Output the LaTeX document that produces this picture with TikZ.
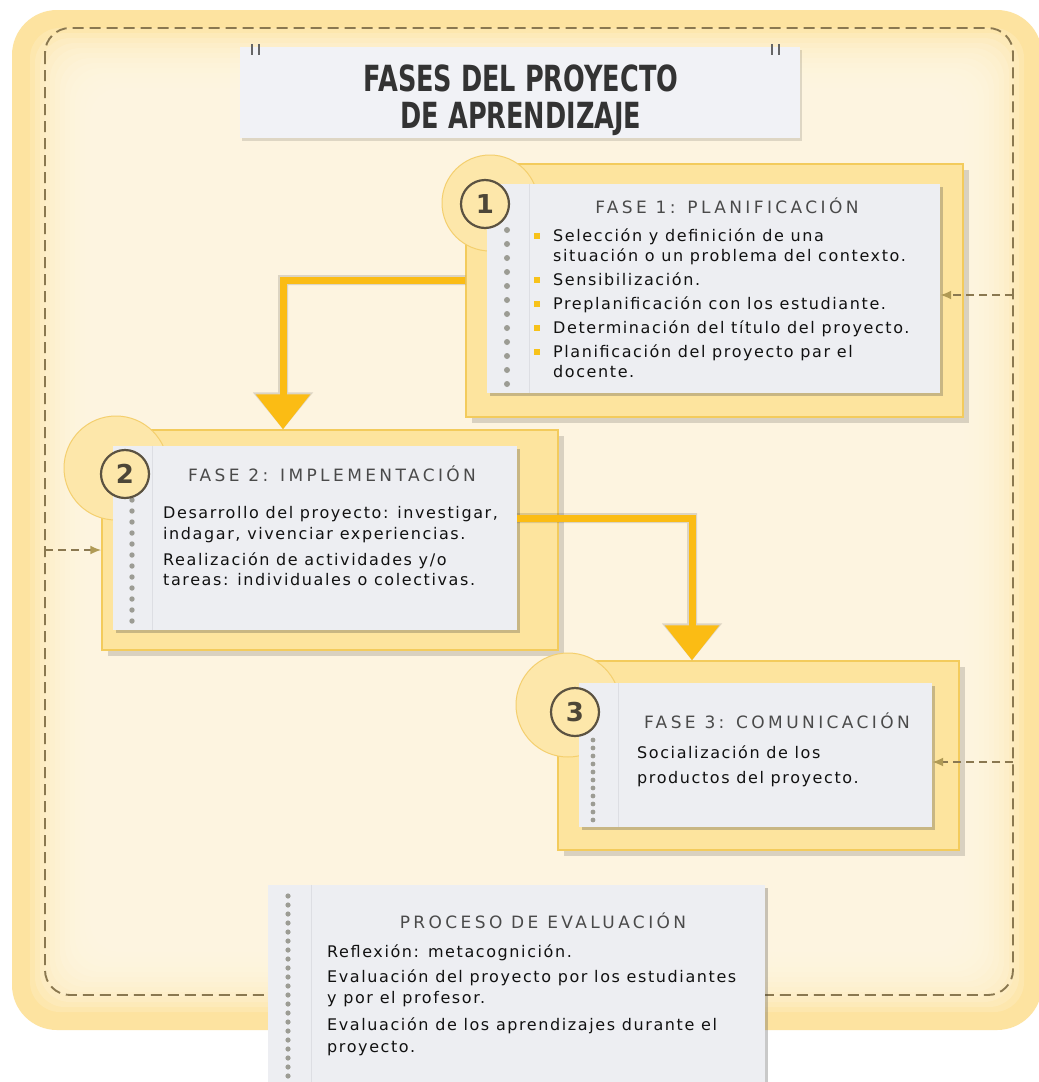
\documentclass[tikz,border=0pt]{standalone}
\usepackage{fontspec}
\usepackage{graphicx}
\setmainfont{DejaVu Sans}
\newfontfamily\bodyfont[LetterSpace=10]{DejaVu Sans}
\newfontfamily\headfont[LetterSpace=20]{DejaVu Sans}
\usetikzlibrary{arrows.meta,shadows,calc}
\definecolor{outery}{HTML}{FDE3A0}
\definecolor{cream}{HTML}{FFF8E6}
\definecolor{framey}{HTML}{FDE49E}
\definecolor{framed}{HTML}{F3CB5C}
\definecolor{cardc}{HTML}{EDEEF2}
\definecolor{gold}{HTML}{FBBC14}
\definecolor{dashc}{HTML}{8A7850}
\definecolor{dashtip}{HTML}{B09A55}
\definecolor{dotc}{HTML}{9C9C94}
\definecolor{headc}{HTML}{4A4A4A}
\definecolor{txtc}{HTML}{111111}
\definecolor{circd}{HTML}{5B5241}
\definecolor{bigcirc}{HTML}{FDE7AA}
\definecolor{bigcircd}{HTML}{F4CF6E}
\definecolor{bulletc}{HTML}{F7C21A}
\definecolor{titlebox}{HTML}{F1F2F6}
\definecolor{marginc}{HTML}{DDDEE3}
\tikzset{
  framebox/.style={rectangle, inner sep=0pt, draw=framed, line width=1.4pt, fill=framey,
    drop shadow={shadow xshift=6pt, shadow yshift=-6pt, opacity=0.14, fill=black}},
  cardbox/.style={rectangle, inner sep=0pt, fill=cardc,
    drop shadow={shadow xshift=3pt, shadow yshift=-3pt, opacity=0.28, fill=black!75}},
  titlebx/.style={rectangle, inner sep=0pt, fill=titlebox,
    drop shadow={shadow xshift=2pt, shadow yshift=-3pt, opacity=0.12, fill=black}},
  bigc/.style={circle, inner sep=0pt, minimum size=96pt, fill=bigcirc, draw=bigcircd, line width=1pt},
  numc/.style={circle, inner sep=0pt, minimum size=48pt, fill=bigcirc, draw=circd, line width=2.2pt,
    text=circd!85!black, font=\bfseries\fontsize{26}{26}\selectfont},
  body/.style={anchor=base west, inner sep=0pt, text=txtc, font=\bodyfont\fontsize{16}{20}\selectfont},
  head/.style={anchor=base, inner sep=0pt, text=headc, font=\headfont\fontsize{17}{20}\selectfont},
  bul/.style={rectangle, inner sep=0pt, minimum size=6pt, fill=bulletc},
  marg/.style={draw=marginc, line width=1pt},
  dashline/.style={draw=dashc, line width=1.9pt, dash pattern=on 11pt off 6pt, rounded corners=25pt},
  dasharrow/.style={draw=dashc, line width=1.9pt, dash pattern=on 8pt off 5pt,
    -{Latex[length=11pt, width=9pt, color=dashtip]}},
  goldarrow/.style={draw=gold, line width=7pt, -{Triangle[width=53pt, length=35pt]}},
  goldshadow/.style={draw=black, line width=10pt, -{Triangle[width=58pt, length=37pt]}},
  ttl/.style={anchor=base, inner sep=0pt, text=black!80},
}
\newcommand{\ttlA}{\scalebox{0.71}[1]{\bfseries\fontsize{36}{36}\selectfont FASES DEL PROYECTO}}
\newcommand{\ttlB}{\scalebox{0.71}[1]{\bfseries\fontsize{36}{36}\selectfont DE APRENDIZAJE}}
\begin{document}
\begin{tikzpicture}[x=1pt, y=-1pt]
\useasboundingbox (0,0) rectangle (1039,1082);
\fill[white] (0,0) rectangle (1039,1082);
% background
\fill[outery, rounded corners=45pt] (12,10) rectangle (1042,1030);
\foreach \d in {18,23,...,78} {
  \fill[cream, opacity=0.2, rounded corners=30pt] (12+\d,10+\d) rectangle (1042-\d,1030-\d);
}
\draw[dashline] (45,28) rectangle (1013,995);

% title
\node[titlebx, minimum width=560pt, minimum height=91pt] (title) at (520,92.5) {};
\draw[line width=1.2pt, black!60] (252,44) -- (252,55) (259,44) -- (259,55)
  (772,44) -- (772,55) (779,44) -- (779,55);
\node[ttl] (t1) at (521,91) {\ttlA};
\node[ttl] (t2) at (521,128) {\ttlB};

% phase 1
\node[framebox, minimum width=497pt, minimum height=253pt] (frame1) at (714.5,290.5) {};
\node[bigc] (b1) at (490,203) {};
\node[cardbox, minimum width=453pt, minimum height=209pt] (card1) at (713.5,288.5) {};
\draw[marg] ($(card1.north west)+(43,0)$) -- ($(card1.south west)+(43,0)$);
\foreach \y in {230,244,...,390} { \fill[dotc] (507,\y) circle (3pt); }
\node[numc] (n1) at (485,204) {1};
\node[head] (h1) at (727,213) {FASE 1: PLANIFICACIÓN};
\node[bul] (u1) at (537,236) {};
\node[bul] (u2) at (537,280) {};
\node[bul] (u3) at (537,304) {};
\node[bul] (u4) at (537,328) {};
\node[bul] (u5) at (537,352) {};
\node[body] (p1a) at (553,241) {Selección y definición de una};
\node[body] (p1b) at (553,261) {situación o un problema del contexto.};
\node[body] (p1c) at (553,285) {Sensibilización.};
\node[body] (p1d) at (553,309) {Preplanificación con los estudiante.};
\node[body] (p1e) at (553,333) {Determinación del título del proyecto.};
\node[body] (p1f) at (553,357) {Planificación del proyecto par el};
\node[body] (p1g) at (553,377) {docente.};

% phase 2
\node[framebox, minimum width=456pt, minimum height=220pt] (frame2) at (330,540) {};
\node[bigc, minimum size=104pt] (b2) at (116,468) {};
\node[cardbox, minimum width=404pt, minimum height=184pt] (card2) at (315,538) {};
\draw[marg] ($(card2.north west)+(40,0)$) -- ($(card2.south west)+(40,0)$);
\foreach \y in {500,511,...,625} { \fill[dotc] (132,\y) circle (2.7pt); }
\node[numc] (n2) at (125,474) {2};
\node[head] (h2) at (332,481) {FASE 2: IMPLEMENTACIÓN};
\node[body] (p2a) at (163,518) {Desarrollo del proyecto: investigar,};
\node[body] (p2b) at (163,539) {indagar, vivenciar experiencias.};
\node[body] (p2c) at (163,565) {Realización de actividades y/o};
\node[body] (p2d) at (163,585) {tareas: individuales o colectivas.};

% phase 3
\node[framebox, minimum width=401pt, minimum height=189pt] (frame3) at (758.5,755.5) {};
\node[bigc, minimum size=104pt] (b3) at (568,705) {};
\node[cardbox, minimum width=353pt, minimum height=144pt] (card3) at (755.5,755) {};
\draw[marg] ($(card3.north west)+(40,0)$) -- ($(card3.south west)+(40,0)$);
\foreach \y in {740,748,...,822} { \fill[dotc] (593,\y) circle (2.4pt); }
\node[numc] (n3) at (575,712) {3};
\node[head] (h3) at (777,728) {FASE 3: COMUNICACIÓN};
\node[body] (p3a) at (637,758) {Socialización de los};
\node[body] (p3b) at (637,783) {productos del proyecto.};

% golden arrows
\coordinate (a1) at (283,280);
\coordinate (a2) at (692,518);
\begin{scope}[shift={(5,6)}, transparency group, opacity=0.13]
  \draw[goldshadow] (a1 -| frame1.west) -| (a1 |- frame2.north);
  \draw[goldshadow] (a2 -| card2.east) -| (a2 |- frame3.north);
\end{scope}
\draw[goldarrow] (a1 -| frame1.west) -| (a1 |- frame2.north);
\draw[goldarrow] (a2 -| card2.east) -| (a2 |- frame3.north);

% dashed feedback arrows
\coordinate (r1) at (1013,295);
\coordinate (l2) at (45,550);
\coordinate (r3) at (1013,762);
\draw[dasharrow] (r1) -- (r1 -| card1.east);
\draw[dasharrow] (l2) -- (l2 -| frame2.west);
\draw[dasharrow] (r3) -- (r3 -| card3.east);

% evaluation
\node[cardbox, minimum width=497pt, minimum height=205pt] (card4) at (516.5,987.5) {};
\draw[marg] ($(card4.north west)+(44,0)$) -- ($(card4.south west)+(44,0)$);
\foreach \y in {896,905,...,1080} { \fill[dotc] (288,\y) circle (2.6pt); }
\node[head] (h4) at (543,928) {PROCESO DE EVALUACIÓN};
\node[body] (p4a) at (327,957) {Reflexión: metacognición.};
\node[body] (p4b) at (327,982) {Evaluación del proyecto por los estudiantes};
\node[body] (p4c) at (327,1003) {y por el profesor.};
\node[body] (p4d) at (327,1030) {Evaluación de los aprendizajes durante el};
\node[body] (p4e) at (327,1052) {proyecto.};
\end{tikzpicture}
\end{document}
